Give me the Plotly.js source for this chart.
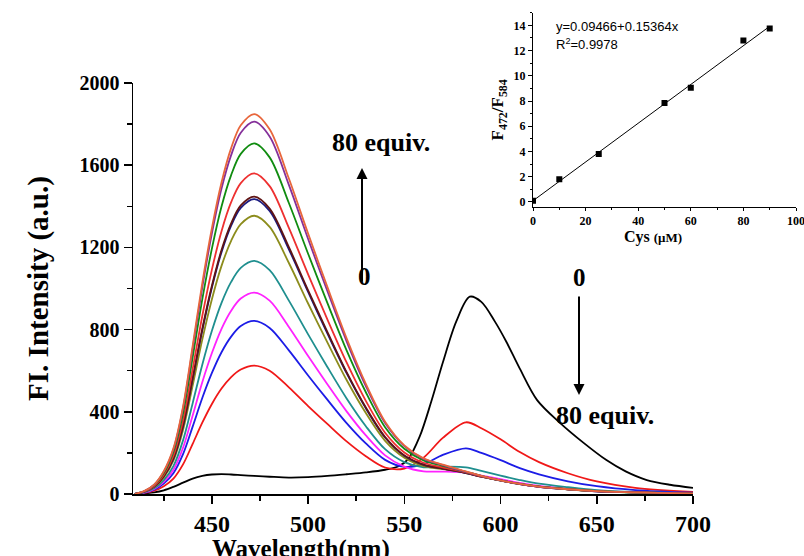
<!DOCTYPE html>
<html>
<head>
<meta charset="utf-8">
<script src="https://cdn.plot.ly/plotly-3.0.1.min.js"></script>
<style>html,body{margin:0;padding:0;background:#fff;}#chart{width:804px;height:556px;}</style>
</head>
<body>
<div id="chart"></div>
<script>
// Wavelength grid (nm) for the Cys-added spectra
const wavelength = [410,415,420,425,430,435,440,445,450,455,460,465,472,480,490,500,510,520,530,540,550,560,570,582,590,600,610,620,635,650,670,700];
// Spectrum with no Cys (black)
const wavelength0 = [410,415,420,425,430,435,440,445,450,455,460,465,472,480,490,500,510,520,530,540,547,552,558,564,570,577,584,590,597,603,610,619,631,643,655,665,676,688,700];
const spec0 = [0,3,8,18,35,55,75,88,95,97,95,92,88,84,80,82,88,96,105,118,135,170,280,450,640,840,960,935,840,741,610,457,345,250,165,110,68,45,30];
// Spectra with increasing Cys
const specRed    = [0,5,16,38,75,144,244,347,438,513,569,606,625,600,519,428,341,256,184,129,124,177,273,349,320,266,204,155,101,61,30,10];
const specBlue   = [0,7,21,51,101,194,328,467,589,690,766,817,842,808,699,577,459,345,246,166,132,145,190,222,200,165,126,96,62,38,19,6];
const specMagenta= [0,8,25,59,118,225,382,544,686,804,892,951,980,941,813,671,534,402,285,188,133,110,109,104,90,72,54,40,26,16,8,2];
const specTeal   = [0,9,28,68,136,261,442,629,794,930,1032,1100,1134,1089,941,777,618,465,330,218,155,130,133,130,112,89,68,50,33,19,10,3];
const specOlive  = [0,11,34,81,162,311,528,751,948,1110,1232,1313,1354,1300,1124,927,738,555,394,259,177,136,121,102,85,66,49,36,24,14,8,2];
const specNavy   = [0,11,36,86,172,330,560,796,1005,1177,1306,1392,1435,1378,1191,983,782,588,417,275,186,142,123,102,84,65,48,35,23,13,8,2];
const specMaroon = [0,12,36,87,174,333,564,803,1013,1187,1317,1404,1447,1389,1201,991,789,593,421,277,188,143,124,103,84,66,48,36,23,13,8,2];
const specRed2   = [0,12,39,94,187,359,608,866,1092,1279,1420,1513,1560,1498,1295,1069,850,640,453,298,202,152,130,105,86,66,49,35,23,14,8,2];
const specGreen  = [0,14,43,102,205,392,665,947,1194,1399,1552,1655,1706,1638,1416,1169,930,699,495,325,220,163,137,108,88,66,49,36,23,14,7,2];
const specPurple = [0,14,45,109,217,417,707,1006,1268,1486,1649,1758,1812,1740,1504,1241,988,743,525,345,233,171,141,108,87,66,49,35,23,13,8,2];
const specOrange = [0,15,46,111,222,425,721,1026,1294,1516,1683,1794,1849,1775,1535,1267,1008,758,536,352,237,174,143,110,88,66,49,36,23,14,8,2];

// Inset: ratio F472/F584 vs Cys
const cys = [0,10,25,50,60,80,90];
const ratio = [0.1,1.8,3.8,7.85,9.05,12.8,13.75];
const fitX = [0,90];
const fitY = [0.095,13.92];

const xTicks = [450,500,550,600,650,700];
const yTicks = [0,400,800,1200,1600,2000];

const serif = "'Liberation Serif','Times New Roman',serif";
const sans = "'Liberation Sans',Arial,sans-serif";

const colored = [
  [specRed,'#f01818'],[specBlue,'#1c1ce6'],[specMagenta,'#ff22ff'],[specTeal,'#1f8f8f'],
  [specOlive,'#8c8c1c'],[specNavy,'#1a1a80'],[specMaroon,'#601414'],[specRed2,'#ee3030'],
  [specGreen,'#108c10'],[specPurple,'#85309a'],[specOrange,'#e8663c']
];

const traces = [];
traces.push({x: wavelength0, y: spec0, type:'scatter', mode:'lines', line:{color:'#000', width:1.8, shape:'spline', smoothing:0.9}, xaxis:'x', yaxis:'y', hoverinfo:'skip'});
colored.forEach(c => traces.push({x: wavelength, y: c[0], type:'scatter', mode:'lines', line:{color:c[1], width:1.8, shape:'spline', smoothing:0.9}, xaxis:'x', yaxis:'y', hoverinfo:'skip'}));
traces.push({x: fitX, y: fitY, type:'scatter', mode:'lines', line:{color:'#000', width:1}, xaxis:'x2', yaxis:'y2'});
traces.push({x: cys, y: ratio, type:'scatter', mode:'markers', marker:{symbol:'square', size:6, color:'#000'}, xaxis:'x2', yaxis:'y2'});

const W = 804, H = 556;
const px = v => v / W, py = v => 1 - v / H;

const layout = {
  width: W, height: H,
  margin: {l:0, r:0, t:0, b:0},
  paper_bgcolor:'#fff', plot_bgcolor:'rgba(0,0,0,0)',
  showlegend:false,
  xaxis: {
    domain:[px(133), px(693)], range:[409,700], anchor:'y',
    tickvals: xTicks, ticktext: xTicks.map(String),
    ticks:'outside', ticklen:8, tickwidth:1.5, tickcolor:'#000',
    minor:{dtick:25, tick0:425, ticks:'outside', ticklen:5, tickwidth:1.5, tickcolor:'#000'},
    showline:true, linecolor:'#000', linewidth:1.5, showgrid:false, zeroline:false,
    tickfont:{family:serif, size:24, color:'#000', weight:'bold'}
  },
  yaxis: {
    domain:[py(494), py(83)], range:[0,2000], anchor:'x',
    tickvals: yTicks, ticktext: yTicks.map(String),
    ticks:'outside', ticklen:8, tickwidth:1.5, tickcolor:'#000',
    minor:{dtick:200, ticks:'outside', ticklen:5, tickwidth:1.5, tickcolor:'#000'},
    showline:true, linecolor:'#000', linewidth:1.5, showgrid:false, zeroline:false,
    tickfont:{family:serif, size:20, color:'#000', weight:'bold'},
    title:{text:'FI. Intensity (a.u.)', font:{family:serif, size:29, color:'#000', weight:'bold'}, standoff:22}
  },
  xaxis2: {
    domain:[px(533), px(796)], range:[0,100], anchor:'y2',
    dtick:20, tick0:0, ticks:'outside', ticklen:3, tickwidth:1, tickcolor:'#000',
    minor:{dtick:10, ticks:'outside', ticklen:2, tickwidth:1, tickcolor:'#000'},
    showline:true, linecolor:'#000', linewidth:1, showgrid:false, zeroline:false,
    ticklabeloverflow:'allow',
    tickfont:{family:serif, size:12, color:'#000', weight:'bold'}
  },
  yaxis2: {
    domain:[py(207), py(12.7)], range:[-0.4,15], anchor:'x2',
    dtick:2, tick0:0, ticks:'outside', ticklen:4, tickwidth:1, tickcolor:'#000',
    minor:{dtick:1, ticks:'outside', ticklen:2, tickwidth:1, tickcolor:'#000'},
    showline:true, linecolor:'#000', linewidth:1, showgrid:false, zeroline:false,
    tickfont:{family:serif, size:12, color:'#000', weight:'bold'},
    title:{text:'F<sub>472</sub>/F<sub>584</sub>', font:{family:serif, size:17, color:'#000', weight:'bold'}, standoff:5}
  },
  annotations: [
    {xref:'paper', yref:'paper', x:px(301), y:py(549), text:'Wavelength(nm)', showarrow:false, xanchor:'center', yanchor:'middle',
     font:{family:serif, size:25, color:'#000', weight:'bold'}},
    {xref:'paper', yref:'paper', x:px(653), y:py(237), text:'Cys <span style="font-size:13px">(μM)</span>', showarrow:false, xanchor:'center', yanchor:'middle',
     font:{family:serif, size:16, color:'#000', weight:'bold'}},
    {xref:'paper', yref:'paper', x:px(381), y:py(143), text:'80 equiv.', showarrow:false, xanchor:'center', yanchor:'middle',
     font:{family:serif, size:26, color:'#000', weight:'bold'}},
    {xref:'paper', yref:'paper', x:px(364), y:py(276), text:'0', showarrow:false, xanchor:'center', yanchor:'middle',
     font:{family:serif, size:25, color:'#000', weight:'bold'}},
    {xref:'paper', yref:'paper', x:px(362), y:py(168), ax:0, ay:115, text:'', showarrow:true, arrowhead:2, arrowsize:1.1, arrowwidth:2, arrowcolor:'#000'},
    {xref:'paper', yref:'paper', x:px(579), y:py(277), text:'0', showarrow:false, xanchor:'center', yanchor:'middle',
     font:{family:serif, size:25, color:'#000', weight:'bold'}},
    {xref:'paper', yref:'paper', x:px(579), y:py(395), ax:0, ay:-100, text:'', showarrow:true, arrowhead:2, arrowsize:1.1, arrowwidth:2, arrowcolor:'#000'},
    {xref:'paper', yref:'paper', x:px(605), y:py(415), text:'80 equiv.', showarrow:false, xanchor:'center', yanchor:'middle',
     font:{family:serif, size:26, color:'#000', weight:'bold'}},
    {xref:'paper', yref:'paper', x:px(554), y:py(26), text:'y=0.09466+0.15364x', showarrow:false, xanchor:'left', yanchor:'middle',
     font:{family:sans, size:13, color:'#000'}},
    {xref:'paper', yref:'paper', x:px(554), y:py(44), text:'R<sup>2</sup>=0.9978', showarrow:false, xanchor:'left', yanchor:'middle',
     font:{family:sans, size:13, color:'#000'}}
  ]
};

Plotly.newPlot('chart', traces, layout, {staticPlot:true, displayModeBar:false});
</script>
</body>
</html>
